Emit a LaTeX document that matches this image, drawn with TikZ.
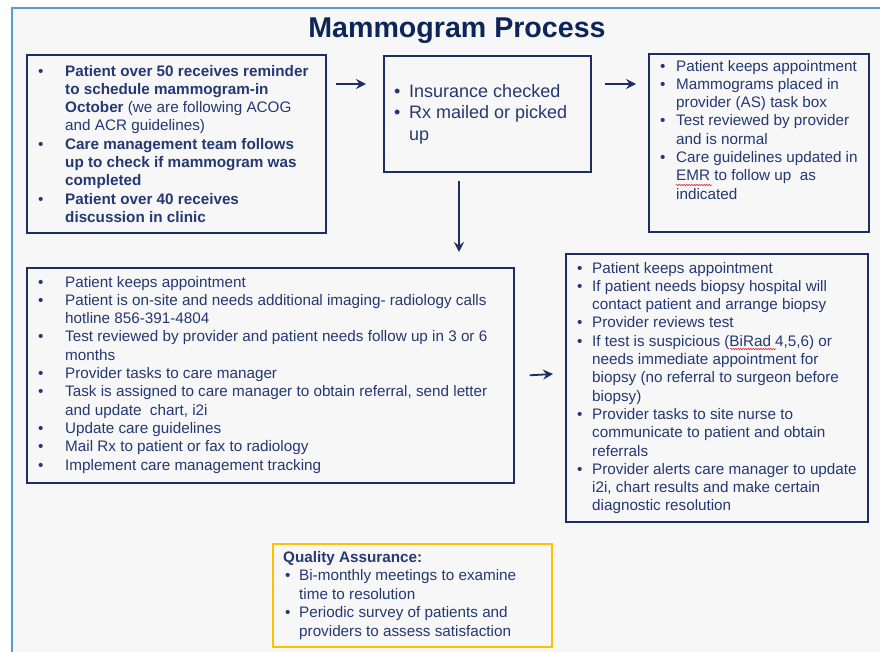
\documentclass[tikz,border=0pt]{standalone}
\usepackage{fontspec}
\setmainfont{Liberation Sans}
\definecolor{MPnavy}{HTML}{1C2E63}
\definecolor{MPtext}{HTML}{243873}
\definecolor{MPtitle}{HTML}{0D2557}
\definecolor{MPgold}{HTML}{FFC000}
\definecolor{MPframe}{HTML}{5B9BD5}
\definecolor{MPbg}{HTML}{F7F7F7}
\definecolor{MPred}{HTML}{E0303A}
\usetikzlibrary{arrows.meta, positioning, decorations.pathmorphing}
\newcommand{\bul}{\textbullet}

\begin{document}
\begin{tikzpicture}[x=1pt, y=-1pt,
   box/.style={draw=MPnavy, line width=1.6pt, rectangle, anchor=north west, inner sep=0pt},
   list/.style={text=MPtext, inner sep=0pt, anchor=base west, font=\fontsize{15.25}{18.3}\selectfont},
   flow/.style={-{Stealth[length=10pt, width=10pt, inset=3.5pt]}, MPnavy, line width=1.8pt},
   squiggle/.style={MPred, line width=0.6pt, decorate, decoration={snake, amplitude=0.7pt, segment length=2.5pt}}]
      % Canvas
      \clip (0,0) rectangle (880,651);
      \useasboundingbox (0,0) rectangle (880,651);
      \fill[white] (0,0) rectangle (880,651);
      \fill[MPbg] (12,8) rectangle (890,660);
      \draw[MPframe, line width=2pt] (12,660) -- (12,8) -- (890,8);
      % Title
      \node[anchor=base, text=MPtitle, font=\fontsize{28.6}{32}\selectfont\bfseries] (title) at (457,37) {Mammogram Process};
      % Boxes
      \node[box, minimum width=299pt, minimum height=178pt] (boxA) at (26,54) {};
      \node[box, minimum width=207pt, minimum height=116pt] (boxB) at (383,55) {};
      \node[box, minimum width=220pt, minimum height=178pt] (boxC) at (648,53) {};
      \node[box, minimum width=487pt, minimum height=215pt] (boxD) at (26,267) {};
      \node[box, minimum width=302pt, minimum height=268pt] (boxE) at (565,253) {};
      \node[box, draw=MPgold, minimum width=279pt, minimum height=103pt] (boxQA) at (272,543) {};
      % Reminder
      \node[list] (txtA) at (38,76) {\begin{tabular}[t]{@{}p{27pt}@{}l@{}}
         \bul & \textbf{Patient over 50 receives reminder}\\
              & \textbf{to schedule mammogram-in}\\
              & \textbf{October} (we are following ACOG\\
              & and ACR guidelines)\\
         \bul & \textbf{Care management team follows}\\
              & \textbf{up to check if mammogram was}\\
              & \textbf{completed}\\
         \bul & \textbf{Patient over 40 receives}\\
              & \textbf{discussion in clinic}
      \end{tabular}};
      % Insurance
      \node[list, font=\fontsize{18}{21.5}\selectfont] (txtB) at (394,97) {\begin{tabular}[t]{@{}p{15pt}@{}l@{}}
         \bul & Insurance checked\\
         \bul & Rx mailed or picked\\
              & up
      \end{tabular}};
      % Normal result
      \node[list] (txtC) at (660,71) {\begin{tabular}[t]{@{}p{16pt}@{}l@{}}
         \bul & Patient keeps appointment\\
         \bul & Mammograms placed in\\
              & provider (AS) task box\\
         \bul & Test reviewed by provider\\
              & and is normal\\
         \bul & Care guidelines updated in\\
              & EMR to follow up\ \ as\\
              & indicated
      \end{tabular}};
      % Follow up
      \node[list] (txtD) at (38,287) {\begin{tabular}[t]{@{}p{27pt}@{}l@{}}
         \bul & Patient keeps appointment\\
         \bul & Patient is on-site and needs additional imaging- radiology calls\\
              & hotline 856-391-4804\\
         \bul & Test reviewed by provider and patient needs follow up in 3 or 6\\
              & months\\
         \bul & Provider tasks to care manager\\
         \bul & Task is assigned to care manager to obtain referral, send letter\\
              & and update\ \ chart, i2i\\
         \bul & Update care guidelines\\
         \bul & Mail Rx to patient or fax to radiology\\
         \bul & Implement care management tracking
      \end{tabular}};
      % Biopsy
      \node[list] (txtE) at (577,273) {\begin{tabular}[t]{@{}p{15pt}@{}l@{}}
         \bul & Patient keeps appointment\\
         \bul & If patient needs biopsy hospital will\\
              & contact patient and arrange biopsy\\
         \bul & Provider reviews test\\
         \bul & If test is suspicious (BiRad 4,5,6) or\\
              & needs immediate appointment for\\
              & biopsy (no referral to surgeon before\\
              & biopsy)\\
         \bul & Provider tasks to site nurse to\\
              & communicate to patient and obtain\\
              & referrals\\
         \bul & Provider alerts care manager to update\\
              & i2i, chart results and make certain\\
              & diagnostic resolution
      \end{tabular}};
      % Quality assurance
      \node[list, font=\fontsize{15.25}{18.5}\selectfont] (txtQA) at (283,562) {\begin{tabular}[t]{@{}p{16pt}@{}l@{}}
         \multicolumn{2}{@{}l@{}}{\textbf{Quality Assurance:}}\\
         \hspace{2pt}\bul & Bi-monthly meetings to examine\\
              & time to resolution\\
         \hspace{2pt}\bul & Periodic survey of patients and\\
              & providers to assess satisfaction
      \end{tabular}};
      % Spelling marks
      \draw[squiggle] (676,185) -- (712,185);
      \draw[squiggle] (730,349) -- (776,349);
      % Arrows
      \draw[flow] ([shift={(9,30)}]boxA.north east) -- ([shift={(-17,29)}]boxB.north west);
      \draw[flow] ([shift={(13,29)}]boxB.north east) -- ([shift={(-12,31)}]boxC.north west);
      \draw[flow] ([shift={(76,8)}]boxB.south west) -- ([shift={(433,-15)}]boxD.north west);
      \draw[flow] ([shift={(15,0)}]boxD.east) -- ([shift={(-12,121)}]boxE.north west);
\end{tikzpicture}
\end{document}
